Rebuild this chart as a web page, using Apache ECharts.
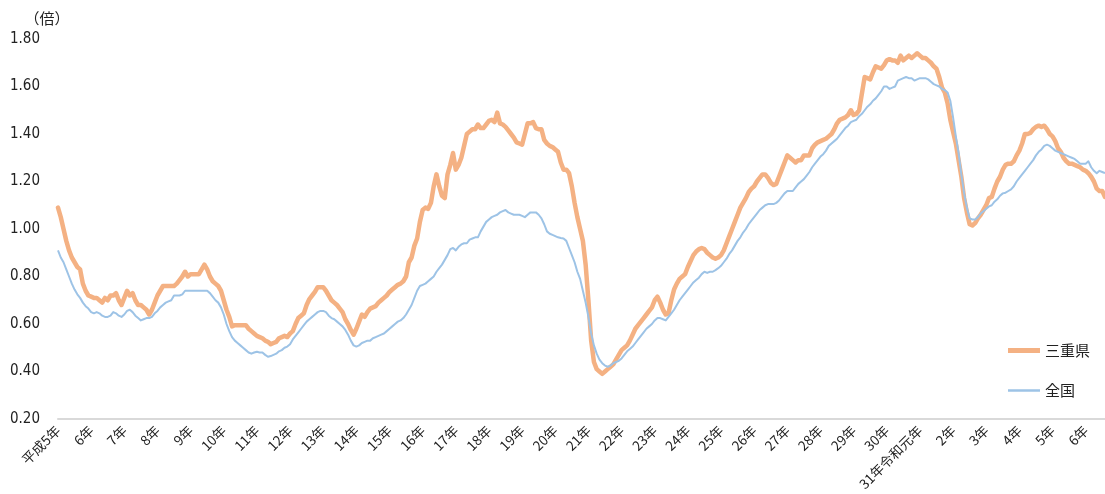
<!DOCTYPE html>
<html>
<head>
<meta charset="utf-8">
<script src="https://cdn.jsdelivr.net/npm/echarts@6/dist/echarts.min.js"></script>
<style>
  html, body { margin: 0; padding: 0; background: #fff; }
  #chart { width: 1105px; height: 494px; }
</style>
</head>
<body>
<div id="chart"></div>
<script>
// 年ラベル（各年1月の位置に表示）
var yearLabels = ['平成5年', '6年', '7年', '8年', '9年', '10年', '11年', '12年', '13年', '14年',
  '15年', '16年', '17年', '18年', '19年', '20年', '21年', '22年', '23年', '24年', '25年',
  '26年', '27年', '28年', '29年', '30年', '31年令和元年', '2年', '3年', '4年', '5年', '6年']

// 三重県 有効求人倍率（月次、平成5年1月〜令和6年8月）
var mieValues = [
  1.09, 1.05, 1.00, 0.95, 0.91, 0.88, 0.86, 0.84, 0.83, 0.77, 0.74, 0.72,
  0.715, 0.71, 0.71, 0.70, 0.69, 0.71, 0.70, 0.72, 0.72, 0.73, 0.70, 0.68,
  0.71, 0.74, 0.72, 0.73, 0.70, 0.68, 0.68, 0.67, 0.66, 0.64, 0.66, 0.69,
  0.72, 0.74, 0.76, 0.76, 0.76, 0.76, 0.76, 0.77, 0.785, 0.80, 0.82, 0.80,
  0.81, 0.81, 0.81, 0.81, 0.83, 0.85, 0.83, 0.80, 0.78, 0.77, 0.76, 0.74,
  0.70, 0.66, 0.63, 0.59, 0.595, 0.595, 0.595, 0.595, 0.595, 0.58, 0.57, 0.56,
  0.55, 0.545, 0.54, 0.53, 0.525, 0.515, 0.52, 0.525, 0.54, 0.545, 0.55, 0.545,
  0.56, 0.57, 0.60, 0.625, 0.635, 0.645, 0.68, 0.705, 0.72, 0.735, 0.755, 0.755,
  0.755, 0.74, 0.72, 0.70, 0.69, 0.68, 0.665, 0.65, 0.62, 0.60, 0.575, 0.555,
  0.58, 0.61, 0.64, 0.63, 0.65, 0.665, 0.67, 0.675, 0.69, 0.70, 0.71, 0.72,
  0.735, 0.745, 0.755, 0.765, 0.77, 0.78, 0.80, 0.86, 0.88, 0.93, 0.96, 1.03,
  1.08, 1.09, 1.085, 1.11, 1.18, 1.23, 1.18, 1.14, 1.13, 1.23, 1.27, 1.32,
  1.25, 1.27, 1.30, 1.35, 1.40, 1.41, 1.42, 1.42, 1.44, 1.425, 1.425, 1.44,
  1.455, 1.46, 1.45, 1.49, 1.445, 1.44, 1.43, 1.415, 1.40, 1.385, 1.365, 1.36,
  1.355, 1.40, 1.445, 1.445, 1.45, 1.425, 1.42, 1.42, 1.375, 1.36, 1.35, 1.345,
  1.335, 1.325, 1.28, 1.25, 1.25, 1.235, 1.18, 1.11, 1.05, 1.00, 0.95, 0.85,
  0.70, 0.53, 0.44, 0.41, 0.40, 0.39, 0.40, 0.41, 0.42, 0.43, 0.45, 0.47,
  0.49, 0.50, 0.51, 0.53, 0.555, 0.58, 0.595, 0.61, 0.625, 0.64, 0.655, 0.67,
  0.70, 0.715, 0.69, 0.66, 0.64, 0.645, 0.70, 0.745, 0.77, 0.79, 0.80, 0.81,
  0.84, 0.865, 0.89, 0.905, 0.915, 0.92, 0.915, 0.90, 0.89, 0.88, 0.875, 0.88,
  0.89, 0.91, 0.94, 0.97, 1.00, 1.03, 1.06, 1.09, 1.11, 1.13, 1.155, 1.17,
  1.18, 1.20, 1.215, 1.23, 1.23, 1.215, 1.195, 1.185, 1.19, 1.22, 1.25, 1.28,
  1.31, 1.30, 1.29, 1.28, 1.29, 1.29, 1.31, 1.31, 1.31, 1.34, 1.355, 1.365,
  1.37, 1.375, 1.38, 1.39, 1.40, 1.42, 1.445, 1.46, 1.465, 1.47, 1.48, 1.50,
  1.48, 1.485, 1.50, 1.57, 1.64, 1.635, 1.63, 1.66, 1.685, 1.68, 1.675, 1.69,
  1.71, 1.715, 1.71, 1.71, 1.70, 1.73, 1.71, 1.72, 1.73, 1.72, 1.73, 1.74,
  1.73, 1.72, 1.72, 1.71, 1.70, 1.685, 1.675, 1.64, 1.595, 1.575, 1.53, 1.46,
  1.41, 1.36, 1.29, 1.22, 1.13, 1.07, 1.02, 1.015, 1.025, 1.045, 1.06, 1.08,
  1.10, 1.13, 1.135, 1.17, 1.20, 1.22, 1.25, 1.27, 1.275, 1.275, 1.285, 1.31,
  1.33, 1.36, 1.40, 1.40, 1.405, 1.42, 1.43, 1.435, 1.43, 1.435, 1.42, 1.40,
  1.39, 1.37, 1.34, 1.325, 1.30, 1.285, 1.275, 1.275, 1.27, 1.265, 1.26, 1.25,
  1.245, 1.235, 1.22, 1.20, 1.17, 1.16, 1.16, 1.135
]

// 全国 有効求人倍率（月次）
var zenkokuValues = [
  0.91, 0.88, 0.86, 0.83, 0.80, 0.77, 0.745, 0.725, 0.71, 0.69, 0.675, 0.665,
  0.65, 0.645, 0.65, 0.645, 0.635, 0.63, 0.63, 0.635, 0.65, 0.645, 0.635, 0.63,
  0.64, 0.655, 0.66, 0.65, 0.635, 0.625, 0.615, 0.62, 0.625, 0.625, 0.63, 0.645,
  0.655, 0.67, 0.68, 0.69, 0.695, 0.70, 0.72, 0.72, 0.72, 0.725, 0.74, 0.74,
  0.74, 0.74, 0.74, 0.74, 0.74, 0.74, 0.74, 0.73, 0.715, 0.70, 0.69, 0.67,
  0.64, 0.60, 0.57, 0.545, 0.53, 0.52, 0.51, 0.50, 0.49, 0.48, 0.475, 0.48,
  0.483, 0.48, 0.48, 0.47, 0.462, 0.465, 0.47, 0.475, 0.485, 0.49, 0.50, 0.505,
  0.515, 0.535, 0.55, 0.565, 0.58, 0.595, 0.61, 0.62, 0.63, 0.64, 0.65, 0.655,
  0.655, 0.65, 0.635, 0.625, 0.62, 0.61, 0.60, 0.59, 0.575, 0.555, 0.53, 0.51,
  0.505, 0.51, 0.52, 0.525, 0.53, 0.53, 0.54, 0.545, 0.55, 0.555, 0.56, 0.57,
  0.58, 0.59, 0.60, 0.61, 0.615, 0.625, 0.64, 0.66, 0.68, 0.71, 0.74, 0.76,
  0.765, 0.77, 0.78, 0.79, 0.80, 0.82, 0.835, 0.85, 0.87, 0.89, 0.915, 0.92,
  0.91, 0.925, 0.935, 0.94, 0.94, 0.955, 0.96, 0.965, 0.965, 0.99, 1.01, 1.03,
  1.04, 1.05, 1.055, 1.06, 1.07, 1.075, 1.08, 1.07, 1.065, 1.06, 1.06, 1.06,
  1.055, 1.05, 1.06, 1.07, 1.07, 1.07, 1.06, 1.045, 1.02, 0.99, 0.98, 0.975,
  0.97, 0.965, 0.962, 0.96, 0.95, 0.92, 0.89, 0.86, 0.82, 0.79, 0.74, 0.69,
  0.63, 0.56, 0.51, 0.475, 0.45, 0.435, 0.425, 0.42, 0.425, 0.435, 0.44, 0.445,
  0.455, 0.47, 0.485, 0.495, 0.505, 0.52, 0.535, 0.55, 0.565, 0.58, 0.59, 0.60,
  0.615, 0.625, 0.625, 0.62, 0.615, 0.63, 0.645, 0.66, 0.68, 0.70, 0.715, 0.73,
  0.745, 0.76, 0.775, 0.785, 0.795, 0.81, 0.82, 0.815, 0.82, 0.82, 0.827, 0.835,
  0.845, 0.86, 0.875, 0.895, 0.91, 0.93, 0.95, 0.965, 0.985, 1.00, 1.02, 1.035,
  1.05, 1.065, 1.08, 1.09, 1.10, 1.105, 1.105, 1.105, 1.11, 1.12, 1.135, 1.15,
  1.16, 1.16, 1.16, 1.175, 1.19, 1.20, 1.21, 1.225, 1.24, 1.26, 1.275, 1.29,
  1.305, 1.315, 1.33, 1.35, 1.36, 1.37, 1.38, 1.395, 1.41, 1.425, 1.435, 1.45,
  1.455, 1.46, 1.475, 1.485, 1.50, 1.515, 1.525, 1.54, 1.55, 1.565, 1.58, 1.60,
  1.60, 1.59, 1.595, 1.60, 1.625, 1.63, 1.635, 1.64, 1.635, 1.635, 1.625, 1.63,
  1.635, 1.635, 1.635, 1.63, 1.62, 1.61, 1.605, 1.60, 1.59, 1.585, 1.575, 1.54,
  1.47, 1.39, 1.32, 1.23, 1.15, 1.09, 1.045, 1.04, 1.04, 1.05, 1.065, 1.075,
  1.085, 1.095, 1.10, 1.115, 1.125, 1.14, 1.15, 1.153, 1.16, 1.167, 1.18, 1.20,
  1.215, 1.23, 1.245, 1.26, 1.275, 1.29, 1.31, 1.325, 1.335, 1.35, 1.355, 1.35,
  1.34, 1.33, 1.325, 1.32, 1.315, 1.31, 1.305, 1.30, 1.295, 1.285, 1.275, 1.275,
  1.275, 1.285, 1.26, 1.245, 1.235, 1.245, 1.24, 1.235
]

// 月次カテゴリ
var months = []
for (var i = 0; i < mieValues.length; i++) {
  months.push((1993 + Math.floor(i / 12)) + '/' + (i % 12 + 1))
}

var chart = echarts.init(document.getElementById('chart'))
var jpFont = '"Noto Sans CJK JP", "Noto Sans", sans-serif'
var numFont = '"Liberation Sans Narrow", "DejaVu Sans Condensed", "Noto Sans CJK JP", sans-serif'

chart.setOption({
  animation: false,
  backgroundColor: '#fff',
  grid: {
    left: 58,
    right: 0,
    top: 39,
    bottom: 75
  },
  legend: {
    orient: 'vertical',
    left: 1003,
    top: 338,
    itemWidth: 32,
    itemHeight: 14,
    itemGap: 25,
    textStyle: {
      fontFamily: jpFont,
      fontSize: 15,
      color: '#222'
    },
    data: [
      { name: '三重県', icon: 'path://M0,0 L32,0 L32,5 L0,5 Z' },
      { name: '全国', icon: 'path://M0,0 L32,0 L32,2.5 L0,2.5 Z' }
    ]
  },
  xAxis: {
    type: 'category',
    boundaryGap: false,
    data: months,
    axisLine: {
      lineStyle: { color: '#d9d9d9', width: 2 }
    },
    axisTick: { show: false },
    axisLabel: {
      interval: function (index) { return index % 12 === 0 },
      rotate: 45,
      margin: 9,
      fontFamily: jpFont,
      fontSize: 13.5,
      color: '#222',
      formatter: function (value, index) {
        return yearLabels[Math.floor(index / 12)]
      }
    },
    splitLine: { show: false }
  },
  yAxis: {
    type: 'value',
    min: 0.2,
    max: 1.8,
    interval: 0.2,
    name: '（倍）',
    nameLocation: 'end',
    nameGap: 13,
    nameTextStyle: {
      fontFamily: jpFont,
      fontSize: 15,
      color: '#222',
      align: 'center',
      padding: [0, 0, 0, -22]
    },
    axisLine: { show: false },
    axisTick: { show: false },
    splitLine: { show: false },
    axisLabel: {
      margin: 18,
      fontFamily: numFont,
      fontSize: 15,
      color: '#222',
      formatter: function (v) { return v.toFixed(2) }
    }
  },
  series: [
    {
      name: '三重県',
      type: 'line',
      symbol: 'none',
      data: mieValues,
      lineStyle: { color: '#F4B183', width: 4.5, cap: 'round', join: 'round' },
      itemStyle: { color: '#F4B183' }
    },
    {
      name: '全国',
      type: 'line',
      symbol: 'none',
      data: zenkokuValues,
      lineStyle: { color: '#9DC3E6', width: 2, join: 'round' },
      itemStyle: { color: '#9DC3E6' }
    }
  ]
})
</script>
</body>
</html>
